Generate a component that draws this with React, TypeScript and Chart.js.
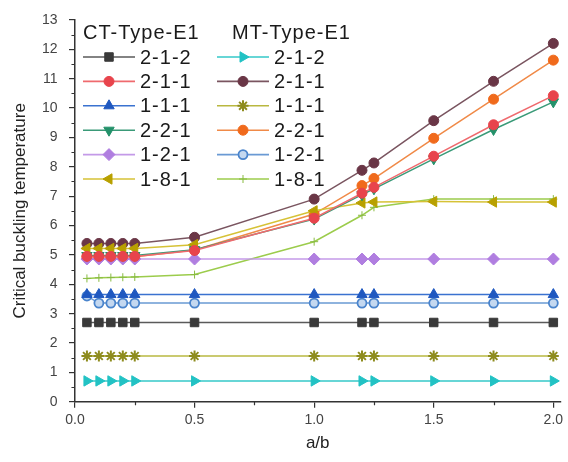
import React, { useEffect, useRef } from 'react';
import { Chart, registerables } from 'chart.js';
import { drawPoint } from 'chart.js/helpers';

Chart.register(...registerables);

const xValues = [0.05, 0.1, 0.15, 0.2, 0.25, 0.5, 1.0, 1.2, 1.25, 1.5, 1.75, 2.0];

// CT-Type-E1
const ct212 = [2.7, 2.7, 2.7, 2.7, 2.7, 2.7, 2.7, 2.7, 2.7, 2.7, 2.7, 2.7];
const ct211 = [4.95, 4.95, 4.95, 4.95, 4.95, 5.15, 6.25, 7.1, 7.3, 8.36, 9.43, 10.42];
const ct111 = [3.65, 3.65, 3.65, 3.65, 3.65, 3.65, 3.65, 3.65, 3.65, 3.65, 3.65, 3.65];
const ct221 = [4.98, 4.98, 4.98, 4.98, 4.98, 5.18, 6.22, 7.05, 7.25, 8.27, 9.27, 10.21];
const ct121 = [4.86, 4.86, 4.86, 4.86, 4.86, 4.86, 4.86, 4.86, 4.86, 4.86, 4.86, 4.86];
const ct181 = [5.22, 5.22, 5.22, 5.22, 5.22, 5.35, 6.5, 6.77, 6.8, 6.82, 6.8, 6.8];

// MT-Type-E1
const mt212 = [0.71, 0.71, 0.71, 0.71, 0.71, 0.71, 0.71, 0.71, 0.71, 0.71, 0.71, 0.71];
const mt211 = [5.39, 5.39, 5.39, 5.39, 5.39, 5.6, 6.9, 7.88, 8.13, 9.57, 10.91, 12.2];
const mt111 = [1.56, 1.56, 1.56, 1.56, 1.56, 1.56, 1.56, 1.56, 1.56, 1.56, 1.56, 1.56];
const mt221 = [4.94, 4.94, 4.94, 4.94, 4.94, 5.17, 6.39, 7.36, 7.6, 8.97, 10.3, 11.63];
const mt121 = [3.6, 3.36, 3.36, 3.36, 3.36, 3.36, 3.36, 3.36, 3.36, 3.36, 3.36, 3.36];
const mt181 = [4.2, 4.22, 4.23, 4.24, 4.25, 4.33, 5.45, 6.35, 6.62, 6.9, 6.9, 6.9];

const seriesLabels = ['2-1-2', '2-1-1', '1-1-1', '2-2-1', '1-2-1', '1-8-1'];
const groupTitles = ['CT-Type-E1', 'MT-Type-E1'];
const yTicks = [0, 1, 2, 3, 4, 5, 6, 7, 8, 9, 10, 11, 12, 13];
const xTicks = [0, 0.5, 1.0, 1.5, 2.0];

const FONT = '"Liberation Sans", Arial, Helvetica, sans-serif';

const minorTicksPlugin = {
  id: 'minorTicks',
  afterDraw(chart: any) {
    const { ctx, chartArea, scales } = chart;
    const xs = scales.x;
    const ys = scales.y;
    ctx.save();
    ctx.strokeStyle = '#333';
    ctx.lineWidth = 1.2;
    ctx.beginPath();
    for (let v = 0.5; v < 13; v += 1) {
      const y = Math.round(ys.getPixelForValue(v)) + 0.5;
      ctx.moveTo(chartArea.left - 3.5, y);
      ctx.lineTo(chartArea.left, y);
    }
    for (let v = 0.25; v < 2.01; v += 0.5) {
      const x = Math.round(xs.getPixelForValue(v)) + 0.5;
      ctx.moveTo(x, chartArea.bottom);
      ctx.lineTo(x, chartArea.bottom + 3.5);
    }
    ctx.stroke();
    ctx.restore();
  },
};

const legendPlugin = {
  id: 'groupLegend',
  afterDraw(chart: any) {
    const ctx = chart.ctx as CanvasRenderingContext2D;
    ctx.save();
    ctx.font = `20px ${FONT}`;
    (ctx as any).letterSpacing = '1px';
    ctx.fillStyle = '#1a1a1a';
    ctx.textBaseline = 'middle';
    ctx.textAlign = 'left';
    const colX = [83, 217];
    ctx.fillText(groupTitles[0], 83, 33);
    ctx.fillText(groupTitles[1], 232, 33);
    chart.data.datasets.forEach((ds: any, i: number) => {
      const col = i < 6 ? 0 : 1;
      const row = i % 6;
      const x0 = colX[col];
      const y = 57 + row * 24.4;
      ctx.strokeStyle = ds.borderColor;
      ctx.lineWidth = 1.6;
      ctx.beginPath();
      ctx.moveTo(x0, y);
      ctx.lineTo(x0 + 52, y);
      ctx.stroke();
      ctx.fillStyle = ds.pointBackgroundColor;
      ctx.strokeStyle = ds.pointBorderColor;
      ctx.lineWidth = ds.pointBorderWidth;
      drawPoint(ctx, {
        pointStyle: ds.pointStyle,
        rotation: ds.pointRotation || 0,
        radius: ds.pointRadius,
        borderWidth: ds.pointBorderWidth,
      } as any, x0 + 26, y);
      ctx.fillStyle = '#1a1a1a';
      ctx.fillText(ds.label, x0 + 57, y + 1);
    });
    ctx.restore();
  },
};

export default function App() {
  const ref = useRef<HTMLCanvasElement | null>(null);

  useEffect(() => {
    if (!ref.current) return;
    const toPts = (arr: number[]) => xValues.map((x, i) => ({ x, y: arr[i] }));
    const mk = (
      label: string,
      arr: number[],
      line: string,
      fill: string,
      stroke: string,
      pointStyle: string,
      radius: number,
      rotation = 0,
      pbw = 1,
    ) => ({
      label,
      data: toPts(arr),
      borderColor: line,
      borderWidth: 1.5,
      pointBackgroundColor: fill,
      pointBorderColor: stroke,
      pointBorderWidth: pbw,
      pointStyle,
      pointRadius: radius,
      pointRotation: rotation,
      pointHoverRadius: radius,
      tension: 0,
      fill: false,
    });

    const datasets = [
      mk(seriesLabels[0], ct212, '#5a5a5a', '#3a3a3a', '#3a3a3a', 'rect', 6),
      mk(seriesLabels[1], ct211, '#ef6a6e', '#e8444c', '#e8444c', 'circle', 5),
      mk(seriesLabels[2], ct111, '#3a72d0', '#1f58c0', '#1f58c0', 'triangle', 6),
      mk(seriesLabels[3], ct221, '#3a9a78', '#23916a', '#23916a', 'triangle', 6, 180),
      mk(seriesLabels[4], ct121, '#c49ae8', '#b07ee0', '#b07ee0', 'rectRot', 6),
      mk(seriesLabels[5], ct181, '#d6c236', '#b8a000', '#b8a000', 'triangle', 6, -90),
      mk(seriesLabels[0], mt212, '#34c8c8', '#22c2c4', '#22c2c4', 'triangle', 6, 90),
      mk(seriesLabels[1], mt211, '#7a5560', '#6a3646', '#6a3646', 'circle', 5),
      mk(seriesLabels[2], mt111, '#b9b840', '#8e8c1e', '#8e8c1e', 'star', 5.5, 0, 2),
      mk(seriesLabels[3], mt221, '#f08a48', '#f06a1c', '#f06a1c', 'circle', 5),
      mk(seriesLabels[4], mt121, '#6a9ad4', '#c4d8f0', '#4a84cc', 'circle', 4.5, 0, 1.8),
      mk(seriesLabels[5], mt181, '#9ccc4c', '#88bb40', '#88bb40', 'cross', 4, 0, 1),
    ];

    const chart = new Chart(ref.current, {
      type: 'line',
      data: { datasets: datasets as any },
      options: {
        animation: false,
        responsive: false,
        devicePixelRatio: 1,
        layout: { padding: { top: 12, right: 4, left: 10, bottom: 8 } },
        plugins: {
          legend: { display: false },
          tooltip: { enabled: false },
        },
        scales: {
          x: {
            type: 'linear',
            min: 0,
            max: 2.03,
            afterBuildTicks: (scale: any) => {
              scale.ticks = xTicks.map((v) => ({ value: v }));
            },
            ticks: {
              color: '#444',
              font: { family: FONT, size: 14 },
              padding: 4,
              maxRotation: 0,
              callback: (v: any) => Number(v).toFixed(1),
            },
            grid: { drawOnChartArea: false, tickLength: 6, color: '#333', lineWidth: 1.2 },
            border: { color: '#333', width: 1.5 },
            title: {
              display: true,
              text: 'a/b',
              color: '#222',
              font: { family: FONT, size: 17 },
              padding: { top: 1, bottom: 0 },
            },
          },
          y: {
            type: 'linear',
            min: 0,
            max: 13,
            afterBuildTicks: (scale: any) => {
              scale.ticks = yTicks.map((v) => ({ value: v }));
            },
            ticks: {
              color: '#444',
              font: { family: FONT, size: 14 },
              padding: 11.5,
            },
            grid: { drawOnChartArea: false, tickLength: 6, color: '#333', lineWidth: 1.2 },
            border: { color: '#333', width: 1.5 },
            title: {
              display: true,
              text: 'Critical buckling temperature',
              color: '#222',
              font: { family: FONT, size: 17 },
              padding: { top: 0, bottom: 0 },
            },
          },
        },
      },
      plugins: [minorTicksPlugin, legendPlugin],
    });
    return () => chart.destroy();
  }, []);

  return (
    <div style={{ position: 'absolute', left: 0, top: 0, width: 568, height: 462, background: '#fff' }}>
      <canvas ref={ref} width={568} height={462} style={{ display: 'block' }} />
    </div>
  );
}
